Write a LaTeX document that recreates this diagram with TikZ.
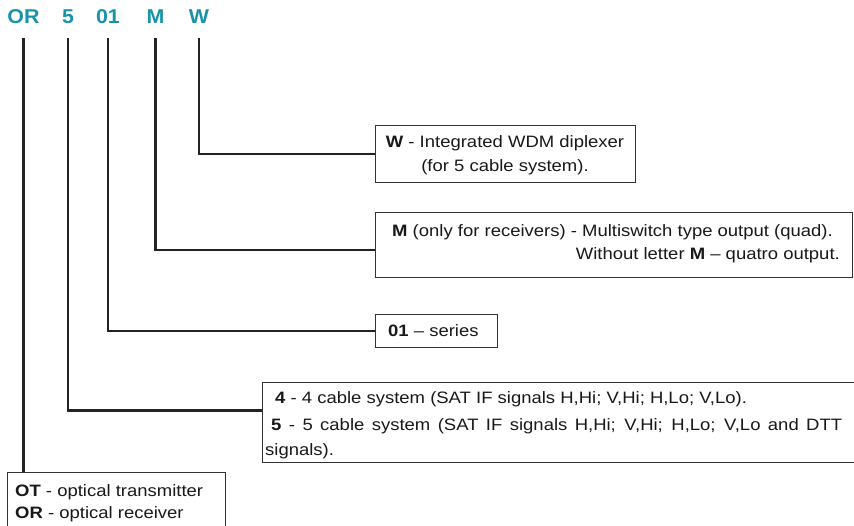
\documentclass[tikz,border=0pt]{standalone}
\usepackage{fontspec}
\setmainfont{Liberation Sans}
\newfontfamily\labfont[FakeStretch=1.12]{Liberation Sans}
\newfontfamily\headfont[FakeStretch=1.07]{Liberation Sans}
\definecolor{tealhead}{RGB}{23,147,170}
\definecolor{inkline}{RGB}{35,35,35}
\begin{document}
\begin{tikzpicture}[x=1pt,y=-1pt,
  head/.style={font=\headfont\fontsize{20}{24}\selectfont\bfseries, text=tealhead, inner sep=0pt, anchor=base},
  lab/.style={font=\labfont\fontsize{16.5}{24.5}\selectfont, inner sep=0pt, text=black!90},
  infobox/.style={draw=black!80, line width=1.1pt, inner sep=0pt, anchor=north west, fill=white},
  conn/.style={draw=inkline, line width=2.4pt}]
\useasboundingbox (0,0) rectangle (854,526);
\clip (0,0) rectangle (854,526);
% header letters
\node[head] (hOR) at (23.5,24) {OR};
\node[head] (h5) at (68,24) {5};
\node[head] (h01) at (108,24) {01};
\node[head] (hM) at (155.5,24) {M};
\node[head] (hW) at (199,24) {W};
% boxes
\node[infobox, minimum width=260pt, minimum height=57pt] (bW) at (375,125) {};
\node[infobox, minimum width=477pt, minimum height=65pt] (bM) at (375,212) {};
\node[infobox, minimum width=122pt, minimum height=33pt] (b01) at (374.5,314) {};
\node[infobox, minimum width=620pt, minimum height=80pt] (b45) at (262,382) {};
\node[infobox, minimum width=218pt, minimum height=80pt] (bOT) at (7,472) {};
% connectors
\draw[conn] ([yshift=-14pt]hW.south) |- (bW.west);
\draw[conn] ([yshift=-14pt]hM.south) |- ([yshift=-5pt]bM.west);
\draw[conn] ([yshift=-14pt]h01.south) |- (b01.west);
\draw[conn] ([yshift=-14pt]h5.south) |- ([yshift=12pt]b45.west);
\draw[conn] ([yshift=-14pt]hOR.south) -- (hOR.south |- bOT.north);
% texts
\node[lab, anchor=base] (tW1) at (505,148) {\textbf{W} - Integrated WDM diplexer};
\node[lab, anchor=base] (tW2) at (505,172) {(for 5 cable system).};
\node[lab, anchor=base west] (tM1) at (392,237) {\textbf{M} (only for receivers) - Multiswitch type output (quad).};
\node[lab, anchor=base east] (tM2) at (840,260) {Without letter \textbf{M} \textendash{} quatro output.};
\node[lab, anchor=base west] (t01) at (388,337) {\textbf{01} \textendash{} series};
\node[lab, anchor=base west] (t4) at (275,403) {\textbf{4} - 4 cable system (SAT IF signals H,Hi; V,Hi; H,Lo; V,Lo).};
\node[lab, anchor=base west] (t5) at (271,430) {\makebox[571pt][s]{\textbf{5} - 5 cable system (SAT IF signals H,Hi; V,Hi; H,Lo; V,Lo and DTT}};
\node[lab, anchor=base west] (t5b) at (265,455) {signals).};
\node[lab, anchor=base west] (tOT) at (15,496) {\textbf{OT} - optical transmitter};
\node[lab, anchor=base west] (tOR) at (15,518) {\textbf{OR} - optical receiver};
\end{tikzpicture}
\end{document}
